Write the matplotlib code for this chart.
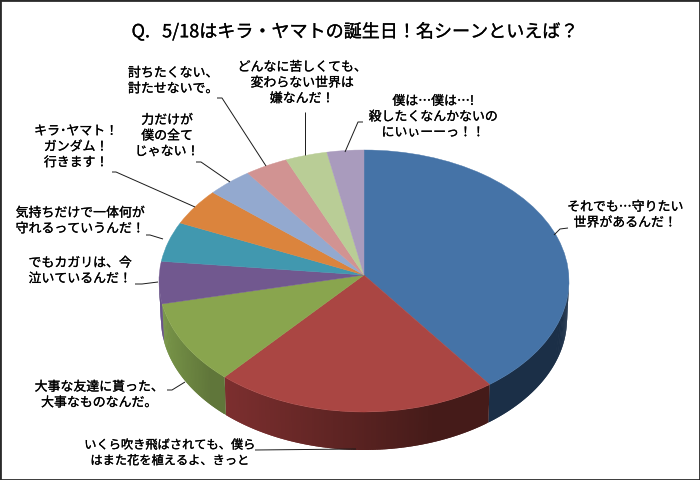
import numpy as np
import matplotlib
matplotlib.use("Agg")
import matplotlib.pyplot as plt
import matplotlib.patheffects as pe
from matplotlib.path import Path
from matplotlib.patches import PathPatch
from matplotlib.collections import PolyCollection
from matplotlib.colors import to_rgb

plt.rcParams['font.family'] = ['Noto Sans CJK JP', 'DejaVu Sans']

title = "Q.   5/18はキラ・ヤマトの誕生日！名シーンといえば？"
labels = [
    "それでも…守りたい\n世界があるんだ！",
    "いくら吹き飛ばされても、僕ら\nはまた花を植えるよ、きっと",
    "大事な友達に貰った、\n大事なものなんだ。",
    "でもカガリは、今\n泣いているんだ！",
    "気持ちだけで一体何が\n守れるっていうんだ！",
    "キラ･ヤマト！\nガンダム！\n行きます！",
    "力だけが\n僕の全て\nじゃない！",
    "討ちたくない、\n討たせないで。",
    "どんなに苦しくても、\n変わらない世界は\n嫌なんだ！",
    "僕は…僕は…!\n殺したくなんかないの\nにいぃーーっ！！",
]
values = [39.5, 22.4, 10.3, 5.2, 4.9, 4.5, 3.6, 3.4, 3.3, 2.9]
colors = ["#4573A7", "#AA4643", "#89A54E", "#71588F", "#4198AF",
          "#DB843D", "#93A9CF", "#D19392", "#B9CD96", "#A99BBD"]
wall_left = ["#1B2F47", "#7D2F2F", "#789548", "#5E4880", "#2F7081",
             "#A0602A", "#6B7B96", "#986B6A", "#87956D", "#7B7189"]
wall_right = ["#1B2F47", "#451B19", "#60763A", "#5E4880", "#2F7081",
              "#A0602A", "#6B7B96", "#986B6A", "#87956D", "#7B7189"]

# layout, in pixels of the 700x480 picture
W, H = 700, 480
CX, CY, RX, RY = 364, 281, 205, 131
APEX_UP = 6
DEPTH = 38
BOTTOM_RX = 203

label_pos = [(625, 215), (170, 453), (99, 395), (80, 271), (80, 221),
             (76, 147), (167, 136), (173, 81), (302, 83), (433, 117)]
label_size = [9.3, 8.8, 9.3, 9.3, 9.3, 9.3, 9.3, 9.3, 9.3, 9.3]
leaders = [
    [(568, 228), (560, 229), (554, 235)],
    [(255, 450), (356, 449)],
    [(167, 390), (172, 390), (185, 382)],
    [(135, 284), (142, 284), (158, 282)],
    [(146, 235), (150, 235), (163, 239)],
    [(112, 172), (116, 172), (195, 207)],
    [(196, 162), (201, 162), (230, 182)],
    [(217, 98), (222, 98), (266, 166)],
    [(305, 112), (305, 155)],
    [(363, 122), (358, 122), (345, 152)],
]

fig = plt.figure(figsize=(7, 4.8), dpi=100, facecolor="white")

# pie axes: data range -1..1 spans the top ellipse
pie_ax = fig.add_axes([(CX - RX) / W, 1 - (CY + RY) / H, 2 * RX / W, 2 * RY / H], zorder=1)
wedges, _ = pie_ax.pie(values, colors=colors, startangle=90, counterclock=False, radius=1)
pie_ax.set_aspect("auto")
pie_ax.set_xlim(-1, 1)
pie_ax.set_ylim(-1, 1)
pie_ax.axis("off")

# the apex of the top face sits slightly above the ellipse centre
for w, c in zip(wedges, colors):
    p = w.get_path()
    tr = w.get_patch_transform()
    verts = tr.transform(p.vertices)
    near = np.hypot(verts[:, 0], verts[:, 1]) < 1e-6
    verts[near, 1] += APEX_UP / RY
    w.remove()
    pie_ax.add_patch(PathPatch(Path(verts, p.codes), facecolor=c, edgecolor=c,
                               linewidth=0.3, zorder=3, clip_on=False))

# side wall, from the same values; each strip overlaps the next to avoid seams
ends = np.cumsum(values) / np.sum(values) * 360
starts = np.r_[0, ends[:-1]]
dy = DEPTH / RY
kx = BOTTOM_RX / RX
polys, fcs = [], []
for s, e, cl, cr in zip(starts, ends, wall_left, wall_right):
    a, b = max(s, 90), min(e, 271)
    if b <= a:
        continue
    ts = np.radians(np.linspace(a, b, max(int((b - a) * 1.5), 2) + 1))
    cl, cr = np.array(to_rgb(cl)), np.array(to_rgb(cr))
    x0, x1 = np.sin(ts).min(), np.sin(ts).max()
    for i in range(len(ts) - 2, -1, -1):
        t0 = ts[i]
        t1 = ts[min(i + 2, len(ts) - 1)]
        polys.append([(np.sin(t0), np.cos(t0)), (np.sin(t1), np.cos(t1)),
                      (kx * np.sin(t1), np.cos(t1) - dy), (kx * np.sin(t0), np.cos(t0) - dy)])
        f = (np.sin((ts[i] + ts[i + 1]) / 2) - x0) / max(x1 - x0, 1e-9)
        fcs.append(cl + (cr - cl) * np.clip(f * 1.25, 0, 1))
pie_ax.add_collection(PolyCollection(polys, facecolors=fcs, edgecolors="none",
                                     linewidths=0, zorder=1, clip_on=False))

# overlay in pixel coordinates
ax = fig.add_axes([0, 0, 1, 1], zorder=2)
ax.set_xlim(0, W)
ax.set_ylim(H, 0)
ax.patch.set_alpha(0)
ax.set_xticks([])
ax.set_yticks([])
for sp in ax.spines.values():
    sp.set_linewidth(2)
    sp.set_color("#2a2a2a")

fatten = [pe.withStroke(linewidth=0.18, foreground="black")]
ax.text(354.5, 32, title, ha="center", va="center", fontsize=13.0, color="black",
        path_effects=fatten)
for lab, (x, y), fs in zip(labels, label_pos, label_size):
    ax.text(x, y, lab, ha="center", va="center", fontsize=fs, color="black",
            linespacing=1.27, path_effects=fatten)
for pts in leaders:
    xs, ys = zip(*pts)
    ax.plot(xs, ys, color="#1a1a1a", lw=0.7, solid_capstyle="butt")

fig.savefig("out.png", dpi=100)
